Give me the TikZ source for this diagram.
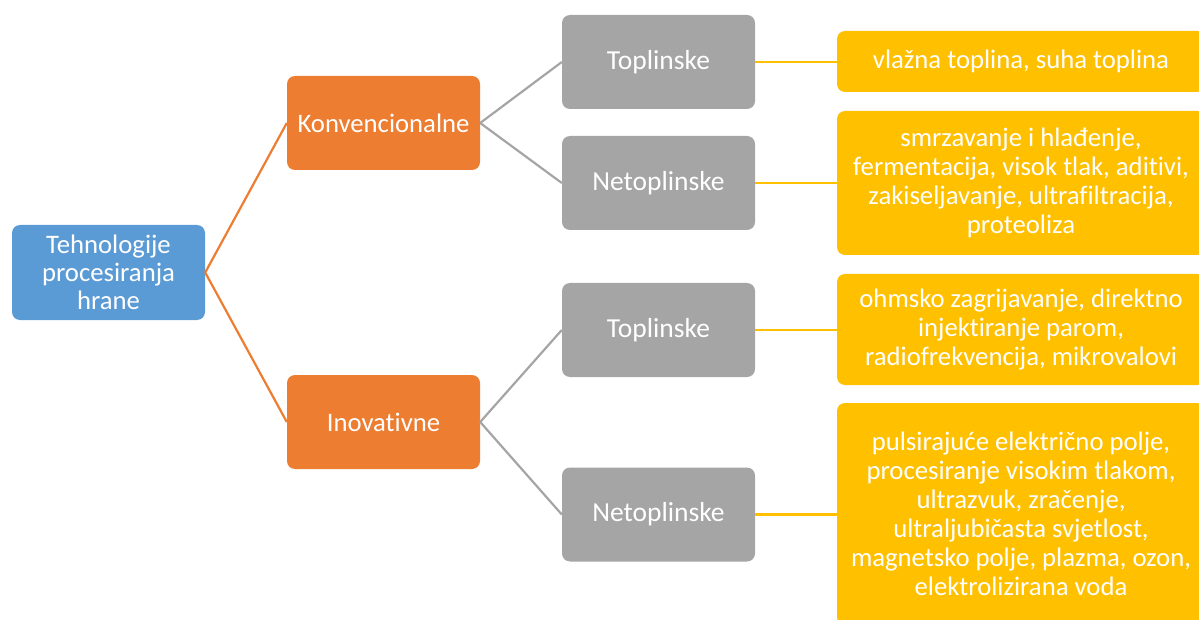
\documentclass[tikz,border=0pt]{standalone}
\usepackage{fontspec}
\setmainfont{Carlito}[Ligatures=NoCommon]
\definecolor{cblue}{HTML}{5B9BD5}
\definecolor{corange}{HTML}{ED7D31}
\definecolor{cgray}{HTML}{A5A5A5}
\definecolor{cyellow}{HTML}{FFC000}
\begin{document}
\begin{tikzpicture}[x=1pt,y=-1pt,
  boxbase/.style={rounded corners=8pt, text=white, align=center, inner sep=0pt,
    font=\fontsize{26.7}{29}\selectfont},
  rootbox/.style={boxbase, fill=cblue, minimum width=193pt, minimum height=95pt,
    font=\fontsize{26.7}{28}\selectfont},
  lvlone/.style={boxbase, fill=corange, minimum width=193pt, minimum height=94pt},
  lvltwo/.style={boxbase, fill=cgray, minimum width=193pt, minimum height=94pt,
    font=\fontsize{27.5}{29}\selectfont},
  leafbox/.style={boxbase, fill=cyellow, minimum width=368pt},
  linkone/.style={draw=corange, line width=2.2pt},
  linktwo/.style={draw=cgray, line width=2.2pt},
  linkthree/.style={draw=cyellow, line width=2.2pt}]
\useasboundingbox (0,0) rectangle (1199,620);
\clip (0,0) rectangle (1199,620);

\node[rootbox] (root) at (108.5,272.5) {Tehnologije\\procesiranja\\hrane};
\node[lvlone] (konv) at (383.5,123) {Konvencionalne};
\node[lvlone] (inov) at (383.5,422) {Inovativne};
\node[lvltwo] (t1) at (658.5,62) {Toplinske};
\node[lvltwo] (n1) at (658.5,183) {Netoplinske};
\node[lvltwo] (t2) at (658.5,330) {Toplinske};
\node[lvltwo] (n2) at (658.5,514.5) {Netoplinske};

\node[leafbox, minimum height=61pt] (y1) at (1021,61.5) {vlažna toplina, suha toplina};
\node[leafbox, minimum height=144pt] (y2) at (1021,183) {smrzavanje i hlađenje,\\fermentacija, visok tlak, aditivi,\\zakiseljavanje, ultrafiltracija,\\proteoliza};
\node[leafbox, minimum height=111pt] (y3) at (1021,329.5) {ohmsko zagrijavanje, direktno\\injektiranje parom,\\radiofrekvencija, mikrovalovi};
\node[leafbox, minimum height=222pt] (y4) at (1021,514) {pulsirajuće električno polje,\\procesiranje visokim tlakom,\\ultrazvuk, zračenje,\\ultraljubičasta svjetlost,\\magnetsko polje, plazma, ozon,\\elektrolizirana voda};

\path[linkone] (root.east) -- (konv.west);
\path[linkone] (root.east) -- (inov.west);
\path[linktwo] (konv.east) -- (t1.west);
\path[linktwo] (konv.east) -- (n1.west);
\path[linktwo] (inov.east) -- (t2.west);
\path[linktwo] (inov.east) -- (n2.west);
\path[linkthree] (t1.east) -- (t1.east -| y1.west);
\path[linkthree] (n1.east) -- (n1.east -| y2.west);
\path[linkthree] (t2.east) -- (t2.east -| y3.west);
\path[linkthree] (n2.east) -- (n2.east -| y4.west);
\end{tikzpicture}
\end{document}
